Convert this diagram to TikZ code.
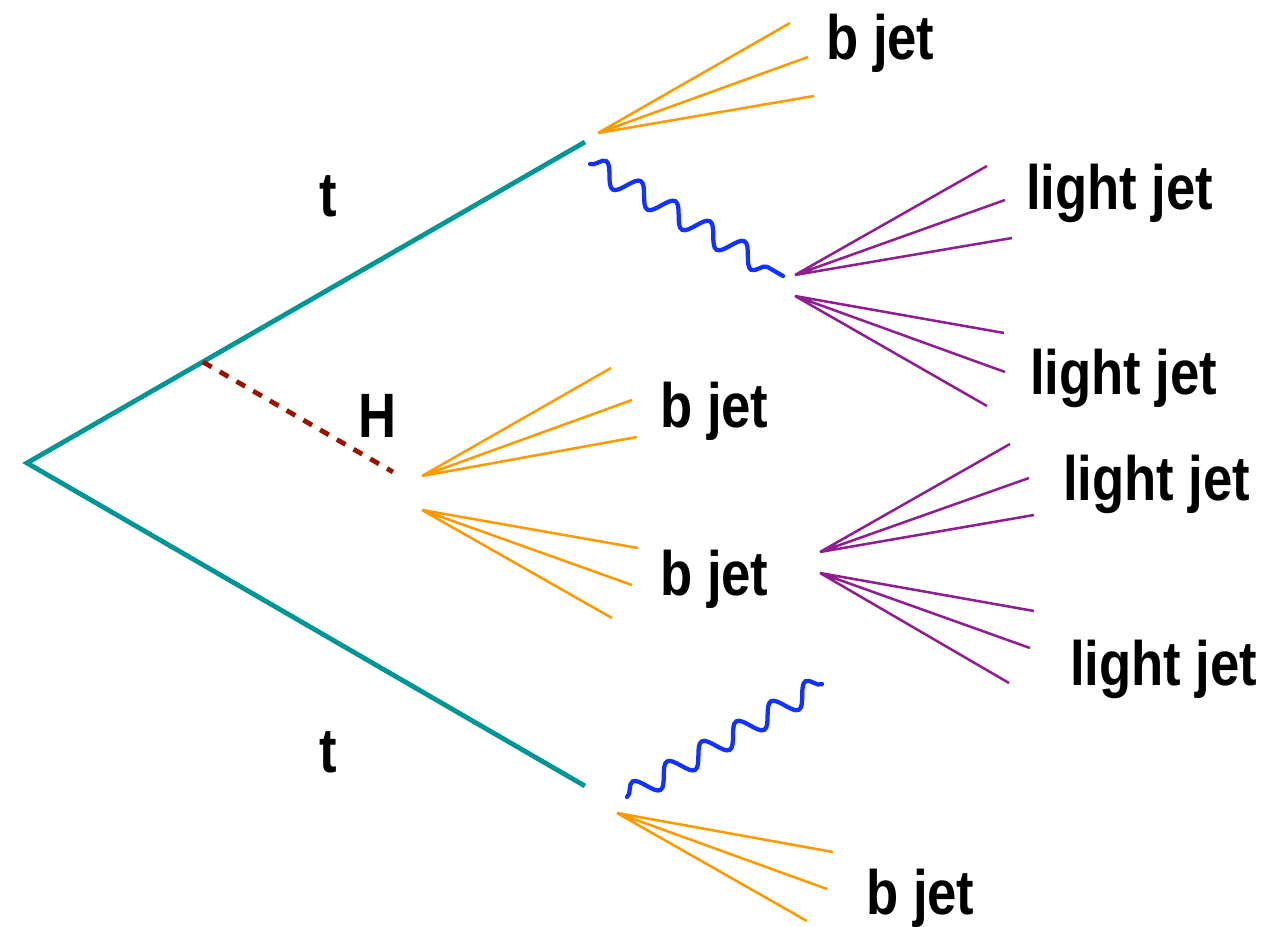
\documentclass[tikz,border=0pt]{standalone}
\usepackage{fontspec}
\setmainfont{Liberation Sans}[FakeStretch=0.84]
\usetikzlibrary{decorations.pathmorphing}
\definecolor{topcol}{RGB}{0,150,150}
\definecolor{jetorange}{RGB}{255,153,0}
\definecolor{jetpurple}{RGB}{145,30,145}
\definecolor{wblue}{RGB}{20,50,255}
\definecolor{hred}{RGB}{150,20,0}
\begin{document}
\begin{tikzpicture}[x=0.75pt,y=-0.75pt,
  topline/.style={draw=topcol,line width=3.6pt},
  higgs/.style={draw=hred,line width=3.6pt,dash pattern=on 7.5pt off 7pt},
  wboson/.style={draw=wblue,line width=3.2pt,line cap=round,decorate,
    decoration={snake,segment length=30pt,amplitude=8pt}},
  bjetline/.style={draw=jetorange,line width=1.9pt},
  ljetline/.style={draw=jetpurple,line width=1.9pt},
  lbl/.style={anchor=base west,inner sep=0pt,font=\fontsize{47}{50}\selectfont\bfseries}]
\useasboundingbox (0,0) rectangle (1278,927);
% vertices
\coordinate (v) at (27,463);
\coordinate (t1) at (585,142);
\coordinate (t2) at (585,786);
\coordinate (hs) at (203,362);
\coordinate (he) at (393,472);
\draw[topline] (t1) -- (v) -- (t2);
\draw[higgs] (hs) -- (he);
% W bosons
\coordinate (w1s) at (590,164);
\coordinate (w1e) at (783,276);
\coordinate (w2s) at (627,797);
\coordinate (w2e) at (822,684);
\draw[wboson] (w1s) -- (w1e);
\draw[wboson] (w2s) -- (w2e);
% top b jet
\coordinate (a1) at (598,133);
\coordinate (a1a) at (790,23);
\coordinate (a1b) at (808,57);
\coordinate (a1c) at (814,96);
\draw[bjetline] (a1a) -- (a1) -- (a1b) (a1) -- (a1c);
% upper light jets
\coordinate (p1) at (795,275);
\coordinate (p1a) at (987,166);
\coordinate (p1b) at (1005,200);
\coordinate (p1c) at (1012,238);
\draw[ljetline] (p1a) -- (p1) -- (p1b) (p1) -- (p1c);
\coordinate (p2) at (795,296);
\coordinate (p2a) at (1004,333);
\coordinate (p2b) at (1005,372);
\coordinate (p2c) at (987,406);
\draw[ljetline] (p2a) -- (p2) -- (p2b) (p2) -- (p2c);
% Higgs b jets
\coordinate (h1) at (422,476);
\coordinate (h1a) at (611,368);
\coordinate (h1b) at (632,400);
\coordinate (h1c) at (637,437);
\draw[bjetline] (h1a) -- (h1) -- (h1b) (h1) -- (h1c);
\coordinate (h2) at (422,510);
\coordinate (h2a) at (638,548);
\coordinate (h2b) at (632,585);
\coordinate (h2c) at (612,618);
\draw[bjetline] (h2a) -- (h2) -- (h2b) (h2) -- (h2c);
% middle light jets
\coordinate (p3) at (820,552);
\coordinate (p3a) at (1010,444);
\coordinate (p3b) at (1029,478);
\coordinate (p3c) at (1034,515);
\draw[ljetline] (p3a) -- (p3) -- (p3b) (p3) -- (p3c);
\coordinate (p4) at (820,573);
\coordinate (p4a) at (1034,611);
\coordinate (p4b) at (1030,648);
\coordinate (p4c) at (1009,683);
\draw[ljetline] (p4a) -- (p4) -- (p4b) (p4) -- (p4c);
% bottom b jet
\coordinate (a2) at (617,813);
\coordinate (a2a) at (833,852);
\coordinate (a2b) at (827,889);
\coordinate (a2c) at (807,921);
\draw[bjetline] (a2a) -- (a2) -- (a2b) (a2) -- (a2c);
% labels
\node[lbl] (ltop) at (319,217) {t};
\node[lbl] (lbot) at (319,772) {t};
\node[lbl] (lH) at (358,437) {H};
\node[lbl] (lb1) at (826,60) {b jet};
\node[lbl] (lb2) at (660,427) {b jet};
\node[lbl] (lb3) at (660,595) {b jet};
\node[lbl] (lb4) at (866,914) {b jet};
\node[lbl] (ll1) at (1026,210) {light jet};
\node[lbl] (ll2) at (1030,394) {light jet};
\node[lbl] (ll3) at (1063,500) {light jet};
\node[lbl] (ll4) at (1070,685) {light jet};
\end{tikzpicture}
\end{document}
